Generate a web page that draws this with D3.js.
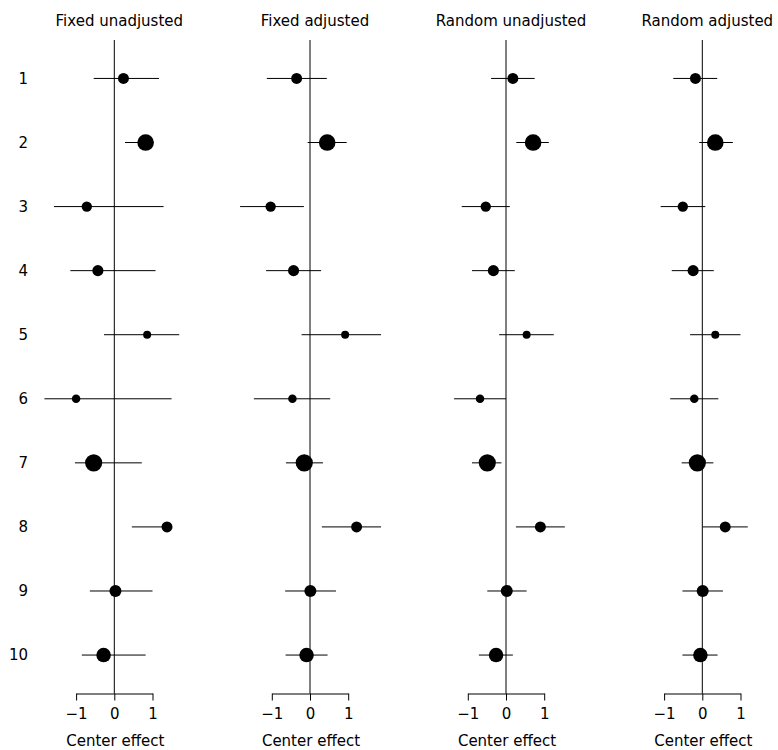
<!DOCTYPE html>
<html>
<head>
<meta charset="utf-8">
<script src="https://cdn.jsdelivr.net/npm/d3@7"></script>
<style>
  html, body { margin: 0; padding: 0; background: #fff; }
  svg text { font-family: "DejaVu Sans", sans-serif; fill: #000; }
</style>
</head>
<body>
<svg id="chart" width="778" height="750"></svg>
<script>
// ---- data ----
const centers = [1, 2, 3, 4, 5, 6, 7, 8, 9, 10];
const weights = [30, 69, 27, 31, 16, 18, 74, 30, 36, 53];
const panelTitles = ["Fixed unadjusted", "Fixed adjusted", "Random unadjusted", "Random adjusted"];
const tickValues = [-1, 0, 1];
const xLabel = "Center effect";

const fixedUnadjEst = [0.24, 0.82, -0.72, -0.43, 0.86, -1.00, -0.54, 1.38, 0.03, -0.28];
const fixedUnadjLo  = [-0.54, 0.28, -1.58, -1.15, -0.27, -1.83, -1.03, 0.46, -0.64, -0.85];
const fixedUnadjHi  = [1.17, 1.02, 1.29, 1.08, 1.70, 1.50, 0.72, 1.45, 1.00, 0.82];

const fixedAdjEst = [-0.35, 0.45, -1.03, -0.43, 0.92, -0.46, -0.15, 1.22, 0.01, -0.09];
const fixedAdjLo  = [-1.13, -0.06, -1.83, -1.15, -0.22, -1.47, -0.63, 0.31, -0.65, -0.64];
const fixedAdjHi  = [0.44, 0.96, -0.16, 0.29, 1.86, 0.53, 0.34, 1.86, 0.68, 0.46];

const randomUnadjEst = [0.18, 0.71, -0.53, -0.33, 0.54, -0.68, -0.49, 0.90, 0.02, -0.26];
const randomUnadjLo  = [-0.39, 0.27, -1.16, -0.89, -0.18, -1.36, -0.89, 0.26, -0.49, -0.71];
const randomUnadjHi  = [0.75, 1.12, 0.10, 0.23, 1.25, 0.00, -0.12, 1.54, 0.54, 0.18];

const randomAdjEst = [-0.18, 0.34, -0.51, -0.24, 0.34, -0.21, -0.13, 0.60, 0.01, -0.05];
const randomAdjLo  = [-0.76, -0.08, -1.09, -0.80, -0.32, -0.84, -0.54, 0.01, -0.52, -0.52];
const randomAdjHi  = [0.39, 0.80, 0.08, 0.30, 1.00, 0.42, 0.29, 1.19, 0.54, 0.40];

const panels = [
  { title: panelTitles[0], est: fixedUnadjEst, lo: fixedUnadjLo, hi: fixedUnadjHi },
  { title: panelTitles[1], est: fixedAdjEst, lo: fixedAdjLo, hi: fixedAdjHi },
  { title: panelTitles[2], est: randomUnadjEst, lo: randomUnadjLo, hi: randomUnadjHi },
  { title: panelTitles[3], est: randomAdjEst, lo: randomAdjLo, hi: randomAdjHi }
];

// ---- layout ----
const svg = d3.select("#chart");
const zeroX = [114.3, 310, 506, 702.3];
const unit = 38.2;
const axisY = 693.5;
const fs = 15;

const y = d3.scaleLinear().domain([0.4, 10.6]).range([40, axisY]);
const r = d3.scaleSqrt().domain([0, 100]).range([0, 10]);

// row labels
svg.append("g").selectAll("text")
  .data(centers)
  .join("text")
  .attr("x", 28)
  .attr("y", d => y(d))
  .attr("dy", "0.36em")
  .attr("text-anchor", "end")
  .attr("font-size", fs)
  .text(d => d);

panels.forEach((p, pi) => {
  const x = d3.scaleLinear().domain([-1, 1]).range([zeroX[pi] - unit, zeroX[pi] + unit]);
  const g = svg.append("g");

  // title
  g.append("text")
    .attr("x", x(0) + 5)
    .attr("y", 26)
    .attr("text-anchor", "middle")
    .attr("font-size", fs)
    .text(p.title);

  // zero reference line
  g.append("line")
    .attr("x1", x(0)).attr("x2", x(0))
    .attr("y1", y(0.4)).attr("y2", axisY)
    .attr("stroke", "#000").attr("stroke-width", 1);

  // CI lines
  g.append("g").selectAll("line")
    .data(centers)
    .join("line")
    .attr("x1", (d, i) => x(p.lo[i]))
    .attr("x2", (d, i) => x(p.hi[i]))
    .attr("y1", d => y(d))
    .attr("y2", d => y(d))
    .attr("stroke", "#000").attr("stroke-width", 1);

  // points
  g.append("g").selectAll("circle")
    .data(centers)
    .join("circle")
    .attr("cx", (d, i) => x(p.est[i]))
    .attr("cy", d => y(d))
    .attr("r", (d, i) => r(weights[i]))
    .attr("fill", "#000");

  // axis
  const ax = g.append("g")
    .attr("transform", `translate(0,${axisY})`)
    .call(d3.axisBottom(x)
      .tickValues(tickValues)
      .tickSize(7)
      .tickSizeOuter(0)
      .tickPadding(8)
      .tickFormat(d => d < 0 ? "\u2212" + Math.abs(d) : String(d)));
  ax.selectAll("path, line").attr("stroke", "#000");
  ax.selectAll("text").attr("font-size", fs).attr("font-family", "DejaVu Sans, sans-serif").attr("fill", "#000");

  // x label
  g.append("text")
    .attr("x", x(0) + 1)
    .attr("y", 746)
    .attr("text-anchor", "middle")
    .attr("font-size", fs)
    .text(xLabel);
});
</script>
</body>
</html>
